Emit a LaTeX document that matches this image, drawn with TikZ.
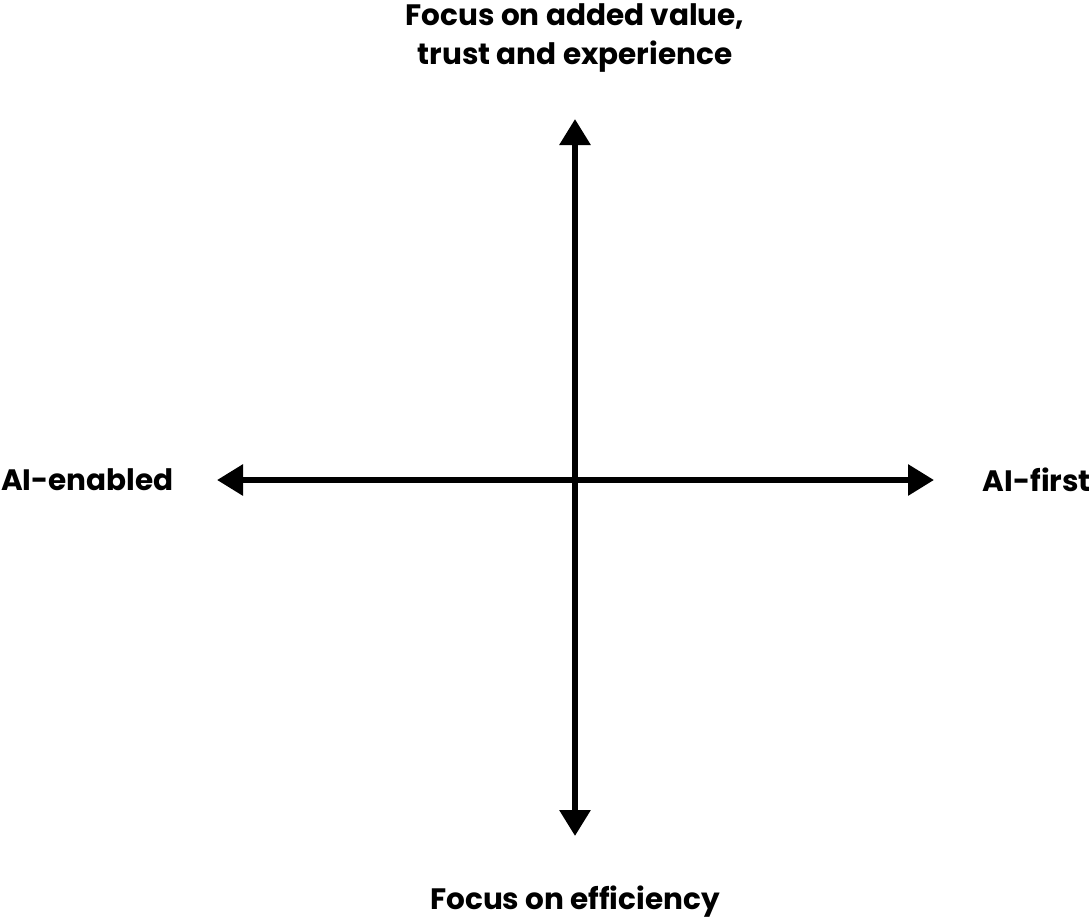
\documentclass[tikz,border=0pt]{standalone}
\usepackage{fontspec}
\setmainfont{Poppins}
\usetikzlibrary{arrows.meta}
\begin{document}
\begin{tikzpicture}[x=1pt,y=-1pt,
  axis/.style={line width=6pt,{Triangle[width=30pt,length=26pt]}-{Triangle[width=30pt,length=26pt]}},
  lbl/.style={font=\fontsize{29.5}{39}\selectfont\bfseries,align=center,inner sep=0pt}]
\useasboundingbox (0,0) rectangle (1092,922);
\coordinate (top) at (575,119);
\coordinate (bot) at (575,836);
\coordinate (lft) at (217,480);
\coordinate (rgt) at (934,480);
\draw[axis] (top) -- (bot);
\draw[axis] (lft) -- (rgt);
\node[lbl] (tl) at (575,38) {Focus on added value,\\trust and experience};
\node[lbl] (bl) at (575,902) {Focus on efficiency};
\node[lbl,anchor=west] (ll) at (1,480) {AI-enabled};
\node[lbl,anchor=east] (rl) at (1091,480) {AI-first};
\end{tikzpicture}
\end{document}
